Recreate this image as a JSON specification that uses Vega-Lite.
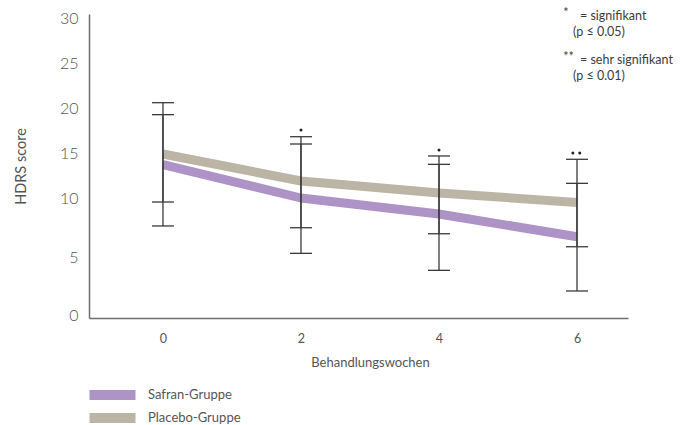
{
  "$schema": "https://vega.github.io/schema/vega-lite/v6.json",
  "width": 539,
  "height": 304,
  "autosize": {"type": "none"},
  "padding": {"left": 89, "top": 14, "right": 61, "bottom": 107},
  "config": {
    "view": {"stroke": null},
    "font": "Lato",
    "text": {"font": "Lato"}
  },
  "datasets": {
    "scores": [
      {"woche": 0, "gruppe": "Placebo-Gruppe", "mittel": 14.89, "unten": 9.66, "oben": 20.59},
      {"woche": 0, "gruppe": "Safran-Gruppe", "mittel": 13.72, "unten": 7.63, "oben": 19.26},
      {"woche": 2, "gruppe": "Placebo-Gruppe", "mittel": 11.89, "unten": 7.48, "oben": 16.81},
      {"woche": 2, "gruppe": "Safran-Gruppe", "mittel": 10.0, "unten": 5.31, "oben": 16.0},
      {"woche": 4, "gruppe": "Placebo-Gruppe", "mittel": 10.56, "unten": 6.97, "oben": 14.67},
      {"woche": 4, "gruppe": "Safran-Gruppe", "mittel": 8.64, "unten": 3.85, "oben": 13.74},
      {"woche": 6, "gruppe": "Placebo-Gruppe", "mittel": 9.62, "unten": 5.87, "oben": 14.3},
      {"woche": 6, "gruppe": "Safran-Gruppe", "mittel": 6.72, "unten": 2.07, "oben": 11.63}
    ],
    "signif": [
      {"woche": 2, "hdrs": 17.56},
      {"woche": 4, "hdrs": 15.33},
      {"woche": 5.94, "hdrs": 15.0},
      {"woche": 6.04, "hdrs": 15.0}
    ],
    "hinweis": [
      {"woche": 5.80, "hdrs": 30.6, "text": "*"},
      {"woche": 6.043, "hdrs": 30.25, "text": "= signifikant"},
      {"woche": 5.942, "hdrs": 28.44, "text": "(p ≤ 0.05)"},
      {"woche": 5.80, "hdrs": 25.7, "text": "**"},
      {"woche": 6.043, "hdrs": 25.33, "text": "= sehr signifikant"},
      {"woche": 5.942, "hdrs": 23.56, "text": "(p ≤ 0.01)"}
    ]
  },
  "encoding": {
    "x": {
      "field": "woche",
      "type": "quantitative",
      "scale": {"domain": [-1.072, 6.739], "nice": false, "zero": false},
      "axis": {
        "title": "Behandlungswochen",
        "values": [0, 2, 4, 6],
        "grid": false,
        "ticks": false,
        "domainColor": "#6e6e6e",
        "domainWidth": 1.5,
        "labelFontSize": 12.5,
        "labelColor": "#555555",
        "labelFontWeight": 400,
        "labelPadding": 14,
        "titleFontSize": 13,
        "titleFontWeight": 400,
        "titleColor": "#555555",
        "titlePadding": 12,
        "titleX": 281
      }
    }
  },
  "layer": [
    {
      "data": {"name": "scores"},
      "mark": {"type": "line", "strokeWidth": 9, "strokeJoin": "round", "strokeCap": "butt"},
      "encoding": {
        "y": {
          "field": "mittel",
          "type": "quantitative",
          "scale": {
            "domain": [-0.26, 0, 5, 10, 15, 20, 25, 30, 30.5],
            "range": [304, 301, 243, 184, 139, 94, 49, 4, 0],
            "nice": false,
            "zero": false
          },
          "axis": {
            "title": "HDRS score",
            "values": [0, 5, 10, 15, 20, 25, 30],
            "grid": false,
            "ticks": false,
            "domainColor": "#6e6e6e",
            "domainWidth": 1.5,
            "labelFontSize": 16,
            "labelColor": "#555555",
            "labelFontWeight": 300,
            "labelPadding": 11,
            "titleFontSize": 14.5,
            "titleFontWeight": 400,
            "titleColor": "#555555",
            "titlePadding": 31
          }
        },
        "color": {
          "field": "gruppe",
          "type": "nominal",
          "scale": {"domain": ["Safran-Gruppe", "Placebo-Gruppe"], "range": ["#ae94c6", "#bcb5a6"]},
          "legend": {
            "title": null,
            "orient": "none",
            "legendX": -1,
            "legendY": 374.5,
            "padding": 0,
            "symbolType": "M-1,-1L8.2,-1L8.2,1L-1,1Z",
            "symbolSize": 100,
            "symbolStrokeWidth": 0,
            "labelOffset": 47,
            "labelFontSize": 13,
            "labelFontWeight": 400,
            "labelColor": "#555555",
            "rowPadding": 9,
            "encode": {
              "symbols": {
                "update": {
                  "fill": {"scale": "color", "field": "value"},
                  "fillOpacity": {"value": 1},
                  "strokeWidth": {"value": 0}
                }
              }
            }
          }
        }
      }
    },
    {
      "data": {"name": "scores"},
      "mark": {"type": "rule", "color": "#3a3a3a", "strokeWidth": 1.3},
      "encoding": {
        "y": {"field": "unten", "type": "quantitative"},
        "y2": {"field": "oben"}
      }
    },
    {
      "data": {"name": "scores"},
      "mark": {"type": "tick", "orient": "horizontal", "color": "#3a3a3a", "size": 22, "thickness": 1.3, "opacity": 1},
      "encoding": {
        "y": {"field": "unten", "type": "quantitative"}
      }
    },
    {
      "data": {"name": "scores"},
      "mark": {"type": "tick", "orient": "horizontal", "color": "#3a3a3a", "size": 22, "thickness": 1.3, "opacity": 1},
      "encoding": {
        "y": {"field": "oben", "type": "quantitative"}
      }
    },
    {
      "data": {"name": "signif"},
      "mark": {"type": "circle", "color": "#222222", "size": 9, "opacity": 1},
      "encoding": {
        "y": {"field": "hdrs", "type": "quantitative"}
      }
    },
    {
      "data": {"name": "hinweis"},
      "mark": {"type": "text", "align": "left", "baseline": "middle", "fontSize": 12.5, "fontWeight": 400, "color": "#3c3c3c"},
      "encoding": {
        "y": {"field": "hdrs", "type": "quantitative"},
        "text": {"field": "text"}
      }
    }
  ]
}
